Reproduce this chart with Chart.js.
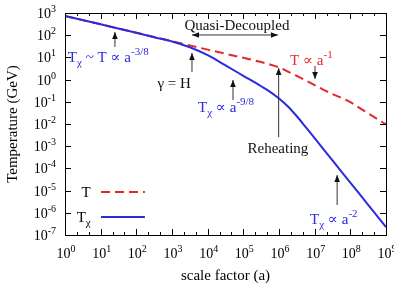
<!DOCTYPE html>
<html>
<head>
<meta charset="utf-8">
<script src="https://cdn.jsdelivr.net/npm/chart.js@4"></script>
<style>
  html, body { margin: 0; padding: 0; background: #fff; }
  #contenedor { width: 394px; height: 286px; }
</style>
</head>
<body>
<div id="contenedor"><canvas id="grafico-temperatura"></canvas></div>
<script>
// =========================================================
// DATOS
// =========================================================
const aT = [1, 10, 100, 1000, 1e4, 1e5, 3.16e5, 5.62e5, 1e6, 1.78e6, 3.16e6, 5.62e6, 1e7, 1.78e7, 3.16e7, 5.62e7, 1e8, 3.16e8, 1e9];
const valoresT = [741, 309, 129, 53.7, 22.4, 9.55, 6.17, 4.79, 3.55, 2.29, 1.45, 0.912, 0.562, 0.347, 0.224, 0.151, 0.0955, 0.0302, 0.00955];

const aTchi = [1, 10, 100, 316, 1000, 3162, 1e4, 31623, 1e5, 3.16e5, 5.62e5, 1e6, 1.78e6, 3.16e6, 5.62e6, 1e7, 3.16e7, 1e8, 3.16e8, 1e9];
const valoresTchi = [741, 309, 129, 81.3, 52.5, 28.8, 12.6, 4.37, 1.48, 0.501, 0.282, 0.141, 0.0617, 0.0224, 0.00724, 0.00229, 2.29e-4, 2.29e-5, 2.29e-6, 2.29e-7];

const ticksX = [1e0, 1e1, 1e2, 1e3, 1e4, 1e5, 1e6, 1e7, 1e8, 1e9];
const exponentesX = ['0', '1', '2', '3', '4', '5', '6', '7', '8', '9'];
const ticksY = [1e-7, 1e-6, 1e-5, 1e-4, 1e-3, 1e-2, 1e-1, 1e0, 1e1, 1e2, 1e3];
const exponentesY = ['-7', '-6', '-5', '-4', '-3', '-2', '-1', '0', '1', '2', '3'];

const tituloX = 'scale factor (a)';
const tituloY = 'Temperature (GeV)';

// =========================================================
// ESTILO
// =========================================================
const ROJO = '#e2282a';
const AZUL = '#2a2ade';
const NEGRO = '#111';
const FUENTE = "'Liberation Serif', 'DejaVu Serif', serif";

// Anotaciones en coordenadas log10 (a, T)
const textos = [
    { en: [0.08, 0.79], alinear: 'left', color: AZUL, partes: [['T'], ['χ', 'sub'], [' ~ T ∝ a'], ['-3/8', 'sup']] },
    { en: [3.06, -0.38], alinear: 'center', color: NEGRO, partes: [['γ = H']] },
    { en: [4.82, 2.23], alinear: 'center', color: NEGRO, partes: [['Quasi-Decoupled']] },
    { en: [6.31, 0.66], alinear: 'left', color: ROJO, partes: [['T ∝ a'], ['-1', 'sup']] },
    { en: [3.73, -1.46], alinear: 'left', color: AZUL, partes: [['T'], ['χ', 'sub'], [' ∝ a'], ['-9/8', 'sup']] },
    { en: [5.97, -3.31], alinear: 'center', color: NEGRO, partes: [['Reheating']] },
    { en: [6.87, -6.5], alinear: 'left', color: AZUL, partes: [['T'], ['χ', 'sub'], [' ∝ a'], ['-2', 'sup']] }
];
const flechas = [
    { desde: [1.40, 1.47], hasta: [1.40, 2.14] },
    { desde: [3.56, 0.34], hasta: [3.56, 1.20] },
    { desde: [4.71, -0.92], hasta: [4.71, -0.02] },
    { desde: [7.01, 0.61], hasta: [7.01, 0.03] },
    { desde: [5.99, -2.59], hasta: [5.99, 0.52] },
    { desde: [7.63, -5.65], hasta: [7.63, -4.3] },
    { desde: [3.56, 2.01], hasta: [5.97, 2.01], doble: true }
];
const leyenda = [
    { y: -5.06, color: ROJO, guiones: [9, 5], partes: [['T']] },
    { y: -6.19, color: AZUL, guiones: [], partes: [['T'], ['χ', 'sub']] }
];

// Texto con subíndices / superíndices
function textoRico(ctx, partes, x, y, alinear, color, tam) {
    const chico = Math.round(tam * 0.72);
    let ancho = 0;
    partes.forEach(p => {
        ctx.font = (p[1] ? chico : tam) + 'px ' + FUENTE;
        ancho += ctx.measureText(p[0]).width;
    });
    let cx = alinear === 'center' ? x - ancho / 2 : alinear === 'right' ? x - ancho : x;
    ctx.textAlign = 'left';
    ctx.textBaseline = 'alphabetic';
    ctx.fillStyle = color;
    partes.forEach(p => {
        ctx.font = (p[1] ? chico : tam) + 'px ' + FUENTE;
        const dy = p[1] === 'sup' ? -Math.round(tam * 0.45) : p[1] === 'sub' ? Math.round(tam * 0.28) : 0;
        ctx.fillText(p[0], cx, y + dy);
        cx += ctx.measureText(p[0]).width;
    });
}

function puntaFlecha(ctx, x1, y1, x2, y2) {
    const ang = Math.atan2(y2 - y1, x2 - x1);
    const largo = 7, medio = 2.8;
    ctx.beginPath();
    ctx.moveTo(x2, y2);
    ctx.lineTo(x2 - largo * Math.cos(ang) + medio * Math.sin(ang), y2 - largo * Math.sin(ang) - medio * Math.cos(ang));
    ctx.lineTo(x2 - largo * Math.cos(ang) - medio * Math.sin(ang), y2 - largo * Math.sin(ang) + medio * Math.cos(ang));
    ctx.closePath();
    ctx.fill();
}

// =========================================================
// PLUGIN: marco, ticks, etiquetas y anotaciones
// =========================================================
const pluginDecoracion = {
    id: 'decoracion',
    afterDraw(chart) {
        const ctx = chart.ctx;
        const area = chart.chartArea;
        const sx = chart.scales.x, sy = chart.scales.y;
        const px = v => sx.getPixelForValue(Math.pow(10, v));
        const py = v => sy.getPixelForValue(Math.pow(10, v));
        ctx.save();

        // marco
        ctx.strokeStyle = '#000';
        ctx.lineWidth = 1;
        ctx.setLineDash([]);
        ctx.strokeRect(Math.round(area.left) + 0.5, Math.round(area.top) + 0.5,
            Math.round(area.right - area.left), Math.round(area.bottom - area.top));

        // ticks eje x (mayores y menores, en espejo)
        ctx.beginPath();
        ticksX.forEach((v, i) => {
            const x = Math.round(sx.getPixelForValue(v)) + 0.5;
            ctx.moveTo(x, area.bottom); ctx.lineTo(x, area.bottom - 6);
            ctx.moveTo(x, area.top); ctx.lineTo(x, area.top + 6);
            if (i < ticksX.length - 1) {
                [1 / 3, 2 / 3].forEach(f => {
                    const xm = Math.round(sx.getPixelForValue(v * Math.pow(10, f))) + 0.5;
                    ctx.moveTo(xm, area.bottom); ctx.lineTo(xm, area.bottom - 3);
                    ctx.moveTo(xm, area.top); ctx.lineTo(xm, area.top + 3);
                });
            }
        });
        ticksY.forEach(v => {
            const y = Math.round(sy.getPixelForValue(v)) + 0.5;
            ctx.moveTo(area.left, y); ctx.lineTo(area.left + 6, y);
            ctx.moveTo(area.right, y); ctx.lineTo(area.right - 6, y);
        });
        ctx.stroke();

        // etiquetas de ticks
        ticksX.forEach((v, i) => {
            textoRico(ctx, [['10'], [exponentesX[i], 'sup']], sx.getPixelForValue(v) + 1, area.bottom + 23, 'center', '#000', 14);
        });
        ticksY.forEach((v, i) => {
            textoRico(ctx, [['10'], [exponentesY[i], 'sup']], area.left - 9, sy.getPixelForValue(v) + 5, 'right', '#000', 14);
        });

        // títulos de ejes
        textoRico(ctx, [[tituloX]], (area.left + area.right) / 2, chart.height - 6, 'center', '#000', 15);
        ctx.save();
        ctx.translate(17, (area.top + area.bottom) / 2);
        ctx.rotate(-Math.PI / 2);
        textoRico(ctx, [[tituloY]], 0, 0, 'center', '#000', 15);
        ctx.restore();

        // flechas
        ctx.strokeStyle = '#333';
        ctx.fillStyle = '#111';
        ctx.lineWidth = 1;
        flechas.forEach(f => {
            const x1 = px(f.desde[0]), y1 = py(f.desde[1]);
            const x2 = px(f.hasta[0]), y2 = py(f.hasta[1]);
            ctx.beginPath();
            ctx.moveTo(x1, y1); ctx.lineTo(x2, y2);
            ctx.stroke();
            puntaFlecha(ctx, x1, y1, x2, y2);
            if (f.doble) puntaFlecha(ctx, x2, y2, x1, y1);
        });

        // textos
        textos.forEach(t => {
            textoRico(ctx, t.partes, px(t.en[0]), py(t.en[1]), t.alinear, t.color, 15);
        });

        // leyenda
        leyenda.forEach(l => {
            const y = py(l.y);
            textoRico(ctx, l.partes, px(0.72), y + 5, 'right', '#000', 15);
            ctx.strokeStyle = l.color;
            ctx.lineWidth = 2;
            ctx.setLineDash(l.guiones);
            ctx.beginPath();
            ctx.moveTo(px(1.01), y); ctx.lineTo(px(2.24), y);
            ctx.stroke();
        });
        ctx.restore();
    }
};

// =========================================================
// GRÁFICO
// =========================================================
const canvasTemp = document.getElementById('grafico-temperatura');
new Chart(canvasTemp.getContext('2d'), {
    type: 'line',
    data: {
        datasets: [
            {
                label: 'Tχ',
                data: aTchi.map((a, i) => ({ x: a, y: valoresTchi[i] })),
                borderColor: AZUL, borderWidth: 2, pointRadius: 0,
                cubicInterpolationMode: 'monotone', fill: false
            },
            {
                label: 'T',
                data: aT.map((a, i) => ({ x: a, y: valoresT[i] })),
                borderColor: ROJO, borderWidth: 2, borderDash: [9, 5], pointRadius: 0,
                cubicInterpolationMode: 'monotone', fill: false
            }
        ]
    },
    options: {
        responsive: true,
        maintainAspectRatio: false,
        animation: false,
        events: [],
        layout: { padding: { left: 65, right: 8, top: 13, bottom: 51 } },
        plugins: { legend: { display: false }, tooltip: { enabled: false } },
        scales: {
            x: { type: 'logarithmic', min: 1, max: 1e9, display: false },
            y: { type: 'logarithmic', min: 1e-7, max: 1e3, display: false }
        }
    },
    plugins: [pluginDecoracion]
});
</script>
</body>
</html>
